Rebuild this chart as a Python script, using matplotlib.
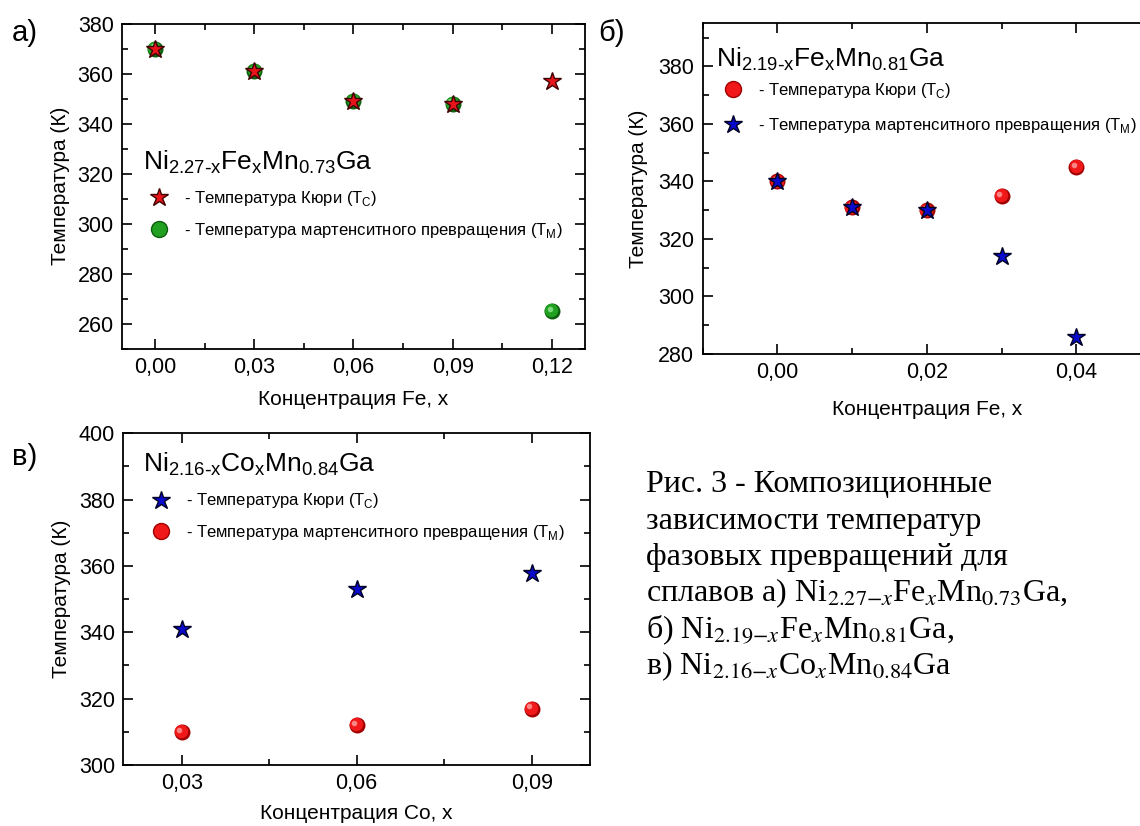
import matplotlib
matplotlib.use("Agg")
import matplotlib.pyplot as plt
from matplotlib.lines import Line2D
from matplotlib.ticker import FixedLocator, MultipleLocator
from matplotlib.transforms import offset_copy

plt.rcParams['font.family'] = ['Liberation Sans', 'DejaVu Sans']

# ---------------- data ----------------
x_a = [0.00, 0.03, 0.06, 0.09, 0.12]
tc_a = [370, 361, 349, 348, 357]
tm_a = [370, 361, 349, 348, 265]
xt_a = [0.00, 0.03, 0.06, 0.09, 0.12]
yt_a = [260, 280, 300, 320, 340, 360, 380]

x_b = [0.00, 0.01, 0.02, 0.03, 0.04]
tc_b = [340, 331, 330, 335, 345]
tm_b = [340, 331, 330, 314, 286]
xt_b = [0.00, 0.02, 0.04]
yt_b = [280, 300, 320, 340, 360, 380]

x_c = [0.03, 0.06, 0.09]
tc_c = [341, 353, 358]
tm_c = [310, 312, 317]
xt_c = [0.03, 0.06, 0.09]
yt_c = [300, 320, 340, 360, 380, 400]

title_a = r'Ni$_{\mathregular{2.27\text{-}x}}$Fe$_{\mathregular{x}}$Mn$_{\mathregular{0.73}}$Ga'
title_b = r'Ni$_{\mathregular{2.19\text{-}x}}$Fe$_{\mathregular{x}}$Mn$_{\mathregular{0.81}}$Ga'
title_c = r'Ni$_{\mathregular{2.16\text{-}x}}$Co$_{\mathregular{x}}$Mn$_{\mathregular{0.84}}$Ga'
lab_tc = r'- Температура Кюри (T$_{\mathregular{C}}$)'
lab_tm = r'- Температура мартенситного превращения (T$_{\mathregular{M}}$)'
ylab = 'Температура (К)'
xlab_fe = 'Концентрация Fe, x'
xlab_co = 'Концентрация Co, x'

caption = [
    'Рис. 3 - Композиционные',
    'зависимости температур',
    'фазовых превращений для',
    r'сплавов а) Ni$_{2.27{-}x}$Fe$_{x}$Mn$_{0.73}$Ga,',
    r'б) Ni$_{2.19{-}x}$Fe$_{x}$Mn$_{0.81}$Ga,',
    r'в) Ni$_{2.16{-}x}$Co$_{x}$Mn$_{0.84}$Ga',
]

# ---------------- figure ----------------
W, H = 1140, 826
fig = plt.figure(figsize=(W / 100, H / 100), dpi=100)


def ax_px(l, r, t, b):
    return fig.add_axes([l / W, 1 - b / H, (r - l) / W, (b - t) / H])


RED = '#e8141a'
GREEN = '#1e931e'
BLUE = '#0a0acc'
MS = 10.5
MSB = 11.5


def comma(v):
    return f'{v:.2f}'.replace('.', ',')


def style(ax, xt, yt, xminor, yminor, ylx, right=True):
    for s in ax.spines.values():
        s.set_linewidth(1.3)
    if not right:
        ax.spines['right'].set_visible(False)
    ax.xaxis.set_major_locator(FixedLocator(xt))
    ax.set_xticklabels([comma(v) for v in xt])
    ax.yaxis.set_major_locator(FixedLocator(yt))
    ax.xaxis.set_minor_locator(MultipleLocator(xminor))
    ax.yaxis.set_minor_locator(MultipleLocator(yminor))
    ax.tick_params(which='both', direction='in', top=True, right=right,
                   width=1.2, labelsize=15.5)
    ax.tick_params(which='major', length=7, pad=6)
    ax.tick_params(which='minor', length=4)
    ax.yaxis.set_label_coords(ylx, 0.46)


def sphere(ax, x, y, dark, mid, hi, z=3):
    # shaded ball: dark rim, mid body shifted up-left, small highlight
    ax.plot(x, y, 'o', ms=MSB, color=dark, mew=0, ls='none', zorder=z)
    tr1 = offset_copy(ax.transData, fig=fig, x=-0.7, y=0.7, units='dots')
    ax.plot(x, y, 'o', ms=MSB - 1.8, color=mid, mew=0, ls='none',
            transform=tr1, zorder=z + 0.05)
    tr2 = offset_copy(ax.transData, fig=fig, x=-2.3, y=2.3, units='dots')
    ax.plot(x, y, 'o', ms=4.0, color=hi, mew=0, alpha=0.8, ls='none',
            transform=tr2, zorder=z + 0.1)


def star(ax, x, y, color, edge, z=5):
    ax.plot(x, y, '*', ms=MS + 3, color=color, mec=edge, mew=1.0, ls='none', zorder=z)


def legend(ax, handles, labels, anchor, spacing):
    ax.legend(handles, labels, loc='upper left', bbox_to_anchor=anchor,
              frameon=False, fontsize=12, handlelength=1.0, handletextpad=1.0,
              labelspacing=spacing, borderpad=0, borderaxespad=0)


h_star_red = Line2D([], [], ls='none', marker='*', ms=MS + 3, color=RED, mec='#400000', mew=1.0)
h_star_blue = Line2D([], [], ls='none', marker='*', ms=MS + 3, color=BLUE, mec='#000022', mew=1.0)
h_green = Line2D([], [], ls='none', marker='o', ms=MSB, color='#22a022', mec='#0b5e0b', mew=1.0)
h_red = Line2D([], [], ls='none', marker='o', ms=MSB, color='#f01818', mec='#a00000', mew=1.0)

# ---- panel a ----
axA = ax_px(122, 585, 23.5, 348.5)
sphere(axA, x_a, tm_a, '#0b5e0b', '#22a022', '#8ee88e')
star(axA, x_a, tc_a, RED, '#400000')
axA.set_xlim(-0.01, 0.13)
axA.set_ylim(250, 380)
style(axA, xt_a, yt_a, 0.015, 10, -0.112)
axA.set_ylabel(ylab, fontsize=15)
axA.set_xlabel(xlab_fe, fontsize=15, labelpad=9)
axA.text(0.045, 0.55, title_a, transform=axA.transAxes, fontsize=19, va='baseline')
legend(axA, [h_star_red, h_green], [lab_tc, lab_tm], (0.062, 0.49), 0.75)

# ---- panel b ----
axB = ax_px(702.7, 1151, 23.3, 354)
sphere(axB, x_b, tc_b, '#a00000', '#f01818', '#ffa0a0')
star(axB, x_b, tm_b, BLUE, '#000022')
axB.set_xlim(-0.01, 0.05)
axB.set_ylim(280, 395)
style(axB, xt_b, yt_b, 0.01, 10, -0.122)
axB.set_ylabel(ylab, fontsize=15)
axB.set_xlabel(xlab_fe, fontsize=15, labelpad=12)
axB.text(0.03, 0.87, title_b, transform=axB.transAxes, fontsize=19, va='baseline')
legend(axB, [h_red, h_star_blue], [lab_tc, lab_tm], (0.05, 0.825), 0.95)

# ---- panel c ----
axC = ax_px(123.3, 590, 433.3, 765)
sphere(axC, x_c, tm_c, '#a00000', '#f01818', '#ffa0a0')
star(axC, x_c, tc_c, BLUE, '#000022')
axC.set_xlim(0.02, 0.10)
axC.set_ylim(300, 400)
style(axC, xt_c, yt_c, 0.015, 10, -0.113)
axC.set_ylabel(ylab, fontsize=15)
axC.set_xlabel(xlab_co, fontsize=15, labelpad=7)
axC.text(0.042, 0.885, title_c, transform=axC.transAxes, fontsize=19, va='baseline')
legend(axC, [h_star_blue, h_red], [lab_tc, lab_tm], (0.062, 0.825), 0.75)

# ---- panel labels ----
fig.text(12 / W, 1 - 33 / H, 'а)', fontsize=21, va='center', ha='left')
fig.text(598 / W, 1 - 33 / H, 'б)', fontsize=21, va='center', ha='left')
fig.text(12 / W, 1 - 457 / H, 'в)', fontsize=21, va='center', ha='left')

# ---- caption ----
y0 = 492
for i, line in enumerate(caption):
    fig.text(646 / W, 1 - (y0 + i * 36.5) / H, line, fontsize=23,
             family=['Liberation Serif', 'DejaVu Serif'], math_fontfamily='stix',
             va='baseline', ha='left')

fig.savefig('out.png', dpi=100)
